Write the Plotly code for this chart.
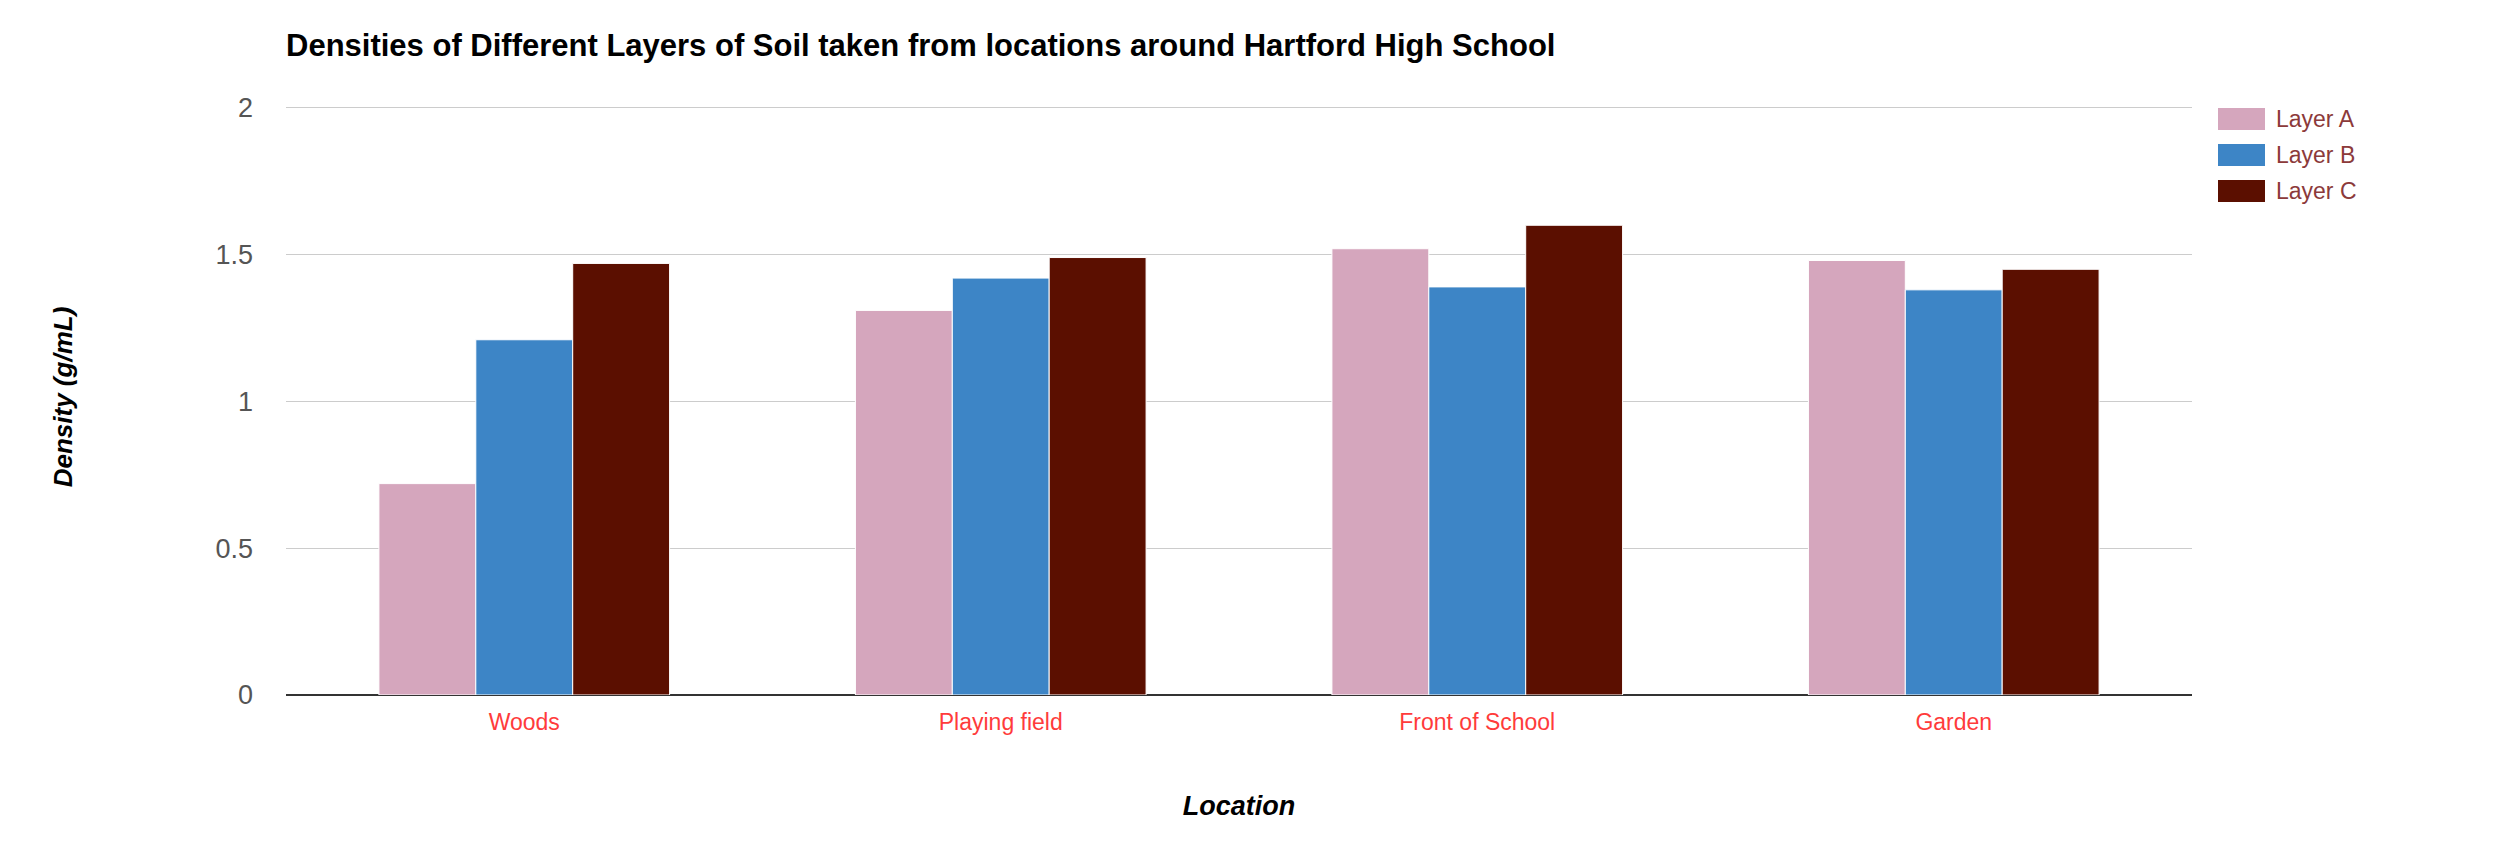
import plotly.graph_objects as go

locations = ["Woods", "Playing field", "Front of School", "Garden"]
layer_names = ["Layer A", "Layer B", "Layer C"]
layer_a = [0.72, 1.31, 1.52, 1.48]
layer_b = [1.21, 1.42, 1.39, 1.38]
layer_c = [1.47, 1.49, 1.60, 1.45]
colors = ["#d5a6bd", "#3d85c6", "#5b0f00"]
y_ticks = [0, 0.5, 1, 1.5, 2]

W, H = 2516, 864
Y_MAX = 2.03
L, R, B = 286, 324, 169
T = 108 - round((Y_MAX - 2) / 2 * 587)

fig = go.Figure()
for name, vals, col in zip(layer_names, [layer_a, layer_b, layer_c], colors):
    fig.add_trace(go.Bar(x=locations, y=vals, name=name, marker_color=col,
                         marker_line_color="white", marker_line_width=1,
                         showlegend=False))

# custom legend (larger swatches like the reference)
for i, (name, col) in enumerate(zip(layer_names, colors)):
    yc = 119 + i * 36
    fig.add_shape(type="rect", xref="paper", yref="paper",
                  x0=(2218 - L) / (W - L - R), x1=(2265 - L) / (W - L - R),
                  y0=(H - B - (yc + 11)) / (H - T - B), y1=(H - B - (yc - 11)) / (H - T - B),
                  fillcolor=col, line_width=0)
    fig.add_annotation(xref="paper", yref="paper", x=(2274 - L) / (W - L - R),
                       y=(H - B - yc) / (H - T - B), text=name, showarrow=False,
                       xanchor="left", yanchor="middle",
                       font=dict(family="Liberation Sans, Arial", size=23, color="#8c3a3a"))

fig.update_layout(
    width=W, height=H,
    margin=dict(l=L, r=R, t=T, b=B),
    plot_bgcolor="white", paper_bgcolor="white",
    barmode="group", bargap=0.39, bargroupgap=0.0,
    font=dict(family="Liberation Sans, Arial"),
    title=dict(text="<b>Densities of Different Layers of Soil taken from locations around Hartford High School</b>",
               x=286 / W, xanchor="left", y=1 - 45 / H, yanchor="middle",
               font=dict(size=31, color="#000000")),
    xaxis=dict(showgrid=False, ticks="", showline=False, ticklabelstandoff=11,
               tickfont=dict(size=23, color="#ff3b3b"),
               title=dict(text="<b><i>Location</i></b>", font=dict(size=27, color="#000"), standoff=62)),
    yaxis=dict(range=[0, Y_MAX], tickvals=y_ticks, ticktext=["0", "0.5", "1", "1.5", "2"],
               gridcolor="#cccccc", gridwidth=1, zeroline=True, zerolinecolor="#333333",
               zerolinewidth=2, ticks="", ticklabelstandoff=32,
               tickfont=dict(size=27, color="#555555"),
               title=dict(text="<b><i>Density (g/mL)</i></b>", font=dict(size=26, color="#000"), standoff=135)),
)
fig.write_html("out.html")
